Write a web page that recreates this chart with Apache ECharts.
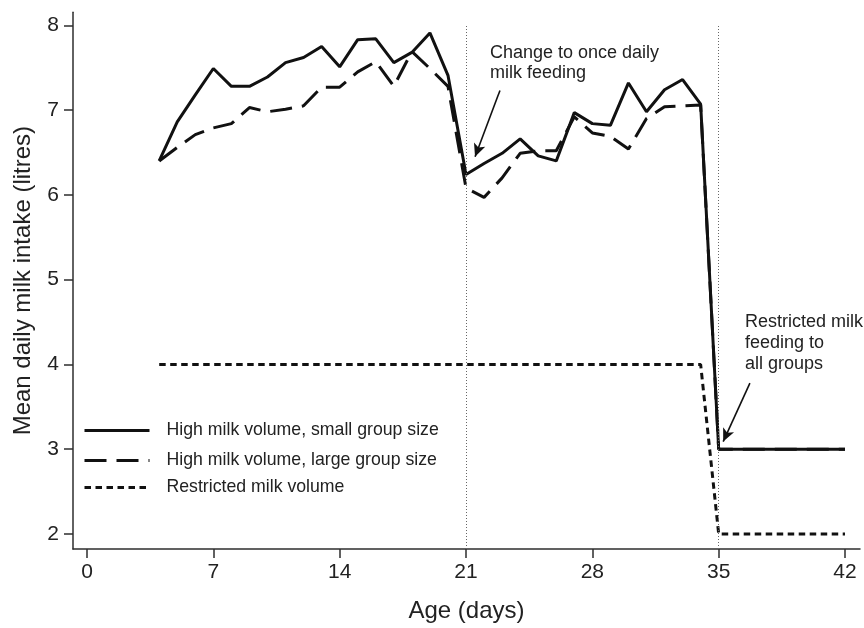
<!DOCTYPE html>
<html>
<head>
<meta charset="utf-8">
<script src="https://cdn.jsdelivr.net/npm/echarts@6/dist/echarts.min.js"></script>
<style>
html,body{margin:0;padding:0;background:#fff;}
#chart{width:864px;height:628px;}
</style>
</head>
<body>
<div id="chart"></div>
<script>
// ---- data ----
const days = [4,5,6,7,8,9,10,11,12,13,14,15,16,17,18,19,20,21,22,23,24,25,26,27,28,29,30,31,32,33,34,35,36,37,38,39,40,41,42];
const highSmall = [6.40,6.86,7.18,7.49,7.28,7.28,7.39,7.56,7.62,7.75,7.51,7.83,7.84,7.56,7.68,7.91,7.41,6.24,6.37,6.49,6.66,6.46,6.40,6.97,6.84,6.82,7.32,6.98,7.24,7.36,7.07,3.00,3.00,3.00,3.00,3.00,3.00,3.00,3.00];
const highLarge = [6.40,6.56,6.71,6.79,6.84,7.03,6.98,7.01,7.05,7.27,7.27,7.45,7.57,7.28,7.69,7.49,7.28,6.08,5.97,6.20,6.49,6.52,6.52,6.92,6.73,6.69,6.54,6.90,7.04,7.05,7.06,3.00,3.00,3.00,3.00,3.00,3.00,3.00,3.00];
const restricted = [4,4,4,4,4,4,4,4,4,4,4,4,4,4,4,4,4,4,4,4,4,4,4,4,4,4,4,4,4,4,4,2,2,2,2,2,2,2,2];
const seriesNames = ['High milk volume, small group size','High milk volume, large group size','Restricted milk volume'];
const xTicks = [0,7,14,21,28,35,42];
const yTicks = [2,3,4,5,6,7,8];
const eventDays = [21,35];
const annotation1 = 'Change to once daily\nmilk feeding';
const annotation2 = 'Restricted milk\nfeeding to\nall groups';
// arrows in data coordinates: [fromX, fromY, toX, toY]
const arrows = [[22.88,7.23,21.5,6.45],[36.73,3.78,35.25,3.09]];

const X_MIN = -0.776, X_MAX = 42.83, Y_MIN = 1.823, Y_MAX = 8.153;
const pairs = v => days.map((d,i)=>[d,v[i]]);
const FONT = '"Liberation Sans", Arial, sans-serif';
const AX = '#2e2e2e';
const INK = '#111';

const legendCommon = {
  left: 83, orient:'horizontal', padding:0, itemWidth:65, itemHeight:14,
  itemStyle:{opacity:0},
  lineStyle:{width:3},
  textStyle:{fontSize:17.7, color:'#222', fontFamily:FONT, padding:[0,0,0,12]},
  selectedMode:false
};

const option = {
  animation:false,
  backgroundColor:'#fff',
  color:[INK, INK, INK],
  textStyle:{fontFamily:FONT},
  grid:{left:73, right:4, top:12.3, bottom:78.7, containLabel:false},
  legend:[
    Object.assign({}, legendCommon, {top:421.5, data:[seriesNames[0]]}),
    Object.assign({}, legendCommon, {top:451.5, data:[seriesNames[1]]}),
    Object.assign({}, legendCommon, {top:478.5, data:[seriesNames[2]]})
  ],
  xAxis:{
    type:'value', min:X_MIN, max:X_MAX,
    axisLine:{show:true, onZero:false, lineStyle:{color:AX, width:1.5}},
    axisTick:{show:true, length:9, customValues:xTicks, lineStyle:{color:AX, width:1.5}},
    axisLabel:{customValues:xTicks, fontSize:21, color:'#222', margin:13},
    splitLine:{show:false},
    name:'Age (days)', nameLocation:'middle', nameGap:50,
    nameTextStyle:{fontSize:24, color:'#222'}
  },
  yAxis:{
    type:'value', min:Y_MIN, max:Y_MAX,
    axisLine:{show:true, onZero:false, lineStyle:{color:AX, width:1.5}},
    axisTick:{show:true, length:9, customValues:yTicks, lineStyle:{color:AX, width:1.5}},
    axisLabel:{customValues:yTicks, fontSize:21, color:'#222', margin:14},
    splitLine:{show:false},
    name:'Mean daily milk intake (litres)', nameLocation:'middle', nameGap:38,
    nameTextStyle:{fontSize:24, color:'#222'}
  },
  series:[
    {
      name:seriesNames[2], type:'line', data:pairs(restricted), symbol:'none',
      itemStyle:{color:INK},
      lineStyle:{color:INK, width:3, type:[6.5,4.5]}, z:2,
      markLine:{
        silent:true, symbol:['none','none'], animation:false,
        label:{show:false},
        lineStyle:{color:'#666', width:1, type:[1,2]},
        data: eventDays.map(d=>[{coord:[d,Y_MIN]},{coord:[d,8]}])
      }
    },
    {
      name:seriesNames[1], type:'line', data:pairs(highLarge), symbol:'none',
      itemStyle:{color:INK},
      lineStyle:{color:INK, width:3, type:[22,10]}, z:3
    },
    {
      name:seriesNames[0], type:'line', data:pairs(highSmall), symbol:'none',
      itemStyle:{color:INK},
      lineStyle:{color:INK, width:3, type:'solid'}, z:4,
      markLine:{
        silent:true, symbol:['none','arrow'], symbolSize:[9,13], animation:false,
        label:{show:false},
        lineStyle:{color:INK, width:1.6, type:'solid'},
        emphasis:{disabled:true},
        data: arrows.map(a=>[{coord:[a[0],a[1]]},{coord:[a[2],a[3]]}])
      }
    }
  ],
  graphic:[
    {type:'text', left:490, top:43, style:{text:annotation1, fontSize:18, lineHeight:20, fontFamily:FONT, fill:'#222'}},
    {type:'text', left:745, top:312, style:{text:annotation2, fontSize:18, lineHeight:21, fontFamily:FONT, fill:'#222'}}
  ]
};

const chart = echarts.init(document.getElementById('chart'), null, {renderer:'canvas'});
chart.setOption(option);
</script>
</body>
</html>
